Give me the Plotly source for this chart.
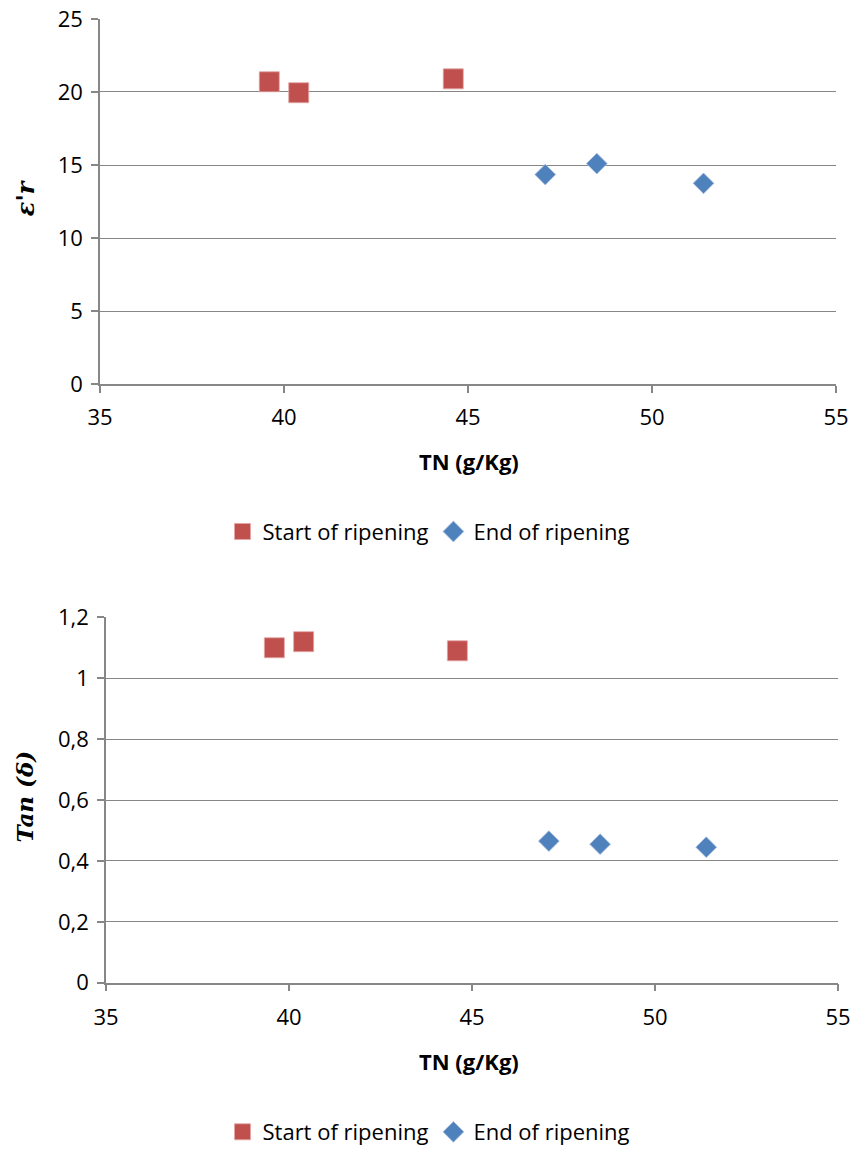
import plotly.graph_objects as go

# Data
tn_start = [39.6, 40.4, 44.6]
tn_end = [47.1, 48.5, 51.4]
er_start = [20.7, 19.95, 20.9]
er_end = [14.35, 15.1, 13.75]
tan_start = [1.10, 1.12, 1.09]
tan_end = [0.465, 0.455, 0.445]

series_names = ["Start of ripening", "End of ripening"]
red = "#C0504D"
blue = "#4F81BD"
grid = "#878787"
W, H = 855, 1153
FONT = "Open Sans"

fig = go.Figure()

sq = dict(symbol="square", size=20, color=red, line=dict(color="#E3A6A4", width=0.8))
dm = dict(symbol="diamond", size=16, color=blue, line=dict(color="#A9C0E0", width=0.8))

fig.add_trace(go.Scatter(x=tn_start, y=er_start, mode="markers", name=series_names[0],
                         marker=sq, xaxis="x", yaxis="y", legend="legend"))
fig.add_trace(go.Scatter(x=tn_end, y=er_end, mode="markers", name=series_names[1],
                         marker=dm, xaxis="x", yaxis="y", legend="legend"))
fig.add_trace(go.Scatter(x=tn_start, y=tan_start, mode="markers", name=series_names[0],
                         marker=sq, xaxis="x2", yaxis="y2", legend="legend2"))
fig.add_trace(go.Scatter(x=tn_end, y=tan_end, mode="markers", name=series_names[1],
                         marker=dm, xaxis="x2", yaxis="y2", legend="legend2"))

def px_x(p):
    return p / W

def px_y(p):
    return 1 - p / H

axis_common = dict(showline=True, linecolor=grid, linewidth=1.5, gridcolor=grid, gridwidth=1.3,
                   ticks="outside", ticklen=7, tickcolor=grid, tickwidth=1.5, automargin=False,
                   ticklabeloverflow="allow",
                   tickfont=dict(family=FONT, size=22, color="#000000"), zeroline=False)

leg_common = dict(orientation="h", xanchor="center", yanchor="middle",
                  font=dict(family=FONT, size=22), itemwidth=30, tracegroupgap=0,
                  bgcolor="rgba(0,0,0,0)")

fig.update_layout(
    width=W, height=H, margin=dict(l=0, r=0, t=0, b=0),
    plot_bgcolor="white", paper_bgcolor="white",
    font=dict(family=FONT, color="#000000"),
    xaxis=dict(domain=[px_x(100), px_x(836)], anchor="y", range=[35, 55],
               tick0=35, dtick=5, showgrid=False, ticklabelstandoff=6, **axis_common),
    yaxis=dict(domain=[px_y(386), px_y(19)], anchor="x", range=[0, 25],
               tick0=0, dtick=5, showgrid=True, ticklabelstandoff=4, **axis_common),
    xaxis2=dict(domain=[px_x(106), px_x(838)], anchor="y2", range=[35, 55],
                tick0=35, dtick=5, showgrid=False, ticklabelstandoff=7, **axis_common),
    yaxis2=dict(domain=[px_y(987), px_y(620)], anchor="x2", range=[0, 1.2],
                tick0=0, dtick=0.2, showgrid=True, ticklabelstandoff=4, **axis_common),
    separators=", ",
    legend=dict(x=px_x(429), y=px_y(534), **leg_common),
    legend2=dict(x=px_x(429), y=px_y(1137), **leg_common),
    showlegend=True,
)

annots = [
    dict(text="<b>TN (g/Kg)</b>", x=px_x(469), y=px_y(463), font=dict(family=FONT, size=22)),
    dict(text="<b>TN (g/Kg)</b>", x=px_x(469), y=px_y(1066), font=dict(family=FONT, size=22)),
    dict(text="<b><i>ε'r</i></b>", x=px_x(25), y=px_y(199), textangle=-90,
         font=dict(family="DejaVu Serif", size=24)),
    dict(text="<b><i>Tan (δ)</i></b>", x=px_x(25), y=px_y(800), textangle=-90,
         font=dict(family="DejaVu Serif", size=23)),
]
for a in annots:
    fig.add_annotation(xref="paper", yref="paper", showarrow=False,
                       xanchor="center", yanchor="middle", **a)

fig.write_html("out.html", config={"displayModeBar": False},
               post_script="document.body.style.margin='0';document.body.style.overflow='hidden';")
